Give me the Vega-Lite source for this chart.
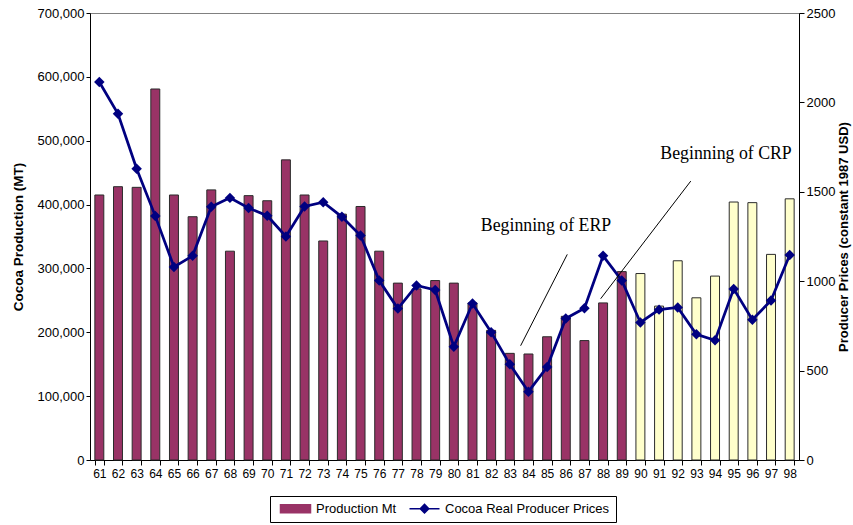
{
  "$schema": "https://vega.github.io/schema/vega-lite/v6.json",
  "width": 709,
  "height": 447,
  "autosize": "none",
  "padding": {"left": 90, "top": 13, "right": 54, "bottom": 65},
  "background": "white",
  "view": {"stroke": "#808080", "strokeWidth": 1},
  "config": {
    "font": "Liberation Sans",
    "axis": {"labelFont": "Liberation Sans", "titleFont": "Liberation Sans", "labelColor": "#000000", "titleColor": "#000000", "domainColor": "#000000", "tickColor": "#000000", "grid": false}
  },
  "datasets": {
    "cocoa": [
      {"year": "61", "production": 415000, "price": 2114},
      {"year": "62", "production": 428000, "price": 1936},
      {"year": "63", "production": 427000, "price": 1629},
      {"year": "64", "production": 581000, "price": 1364},
      {"year": "65", "production": 415000, "price": 1080},
      {"year": "66", "production": 381000, "price": 1142},
      {"year": "67", "production": 423000, "price": 1416},
      {"year": "68", "production": 327000, "price": 1466},
      {"year": "69", "production": 414000, "price": 1409},
      {"year": "70", "production": 406000, "price": 1366},
      {"year": "71", "production": 470000, "price": 1250},
      {"year": "72", "production": 415000, "price": 1418},
      {"year": "73", "production": 343000, "price": 1442},
      {"year": "74", "production": 385000, "price": 1360},
      {"year": "75", "production": 397000, "price": 1256},
      {"year": "76", "production": 327000, "price": 1004},
      {"year": "77", "production": 277000, "price": 847},
      {"year": "78", "production": 268000, "price": 976},
      {"year": "79", "production": 281000, "price": 951},
      {"year": "80", "production": 277000, "price": 634},
      {"year": "81", "production": 246000, "price": 875},
      {"year": "82", "production": 203000, "price": 715},
      {"year": "83", "production": 167000, "price": 535},
      {"year": "84", "production": 166000, "price": 382},
      {"year": "85", "production": 193000, "price": 520},
      {"year": "86", "production": 225000, "price": 791},
      {"year": "87", "production": 187000, "price": 849},
      {"year": "88", "production": 246000, "price": 1142},
      {"year": "89", "production": 295000, "price": 1004},
      {"year": "90", "production": 292000, "price": 769},
      {"year": "91", "production": 241000, "price": 841},
      {"year": "92", "production": 312000, "price": 853},
      {"year": "93", "production": 254000, "price": 703},
      {"year": "94", "production": 288000, "price": 670},
      {"year": "95", "production": 404000, "price": 957},
      {"year": "96", "production": 403000, "price": 784},
      {"year": "97", "production": 322000, "price": 892},
      {"year": "98", "production": 409000, "price": 1147}
    ],
    "leaders": [
      {"id": "ERP", "x": 83.58, "y": 639},
      {"id": "ERP", "x": 86.08, "y": 1150},
      {"id": "CRP", "x": 87.87, "y": 902},
      {"id": "CRP", "x": 92.7, "y": 1560}
    ],
    "labels": [
      {"text": "Beginning of ERP", "x": 84.94, "y": 1281},
      {"text": "Beginning of CRP", "x": 94.59, "y": 1683}
    ]
  },
  "layer": [
    {
      "data": {"name": "cocoa"},
      "layer": [
        {
          "mark": {"type": "bar", "stroke": "#2b2b2b", "strokeWidth": 1},
          "encoding": {
            "x": {
              "field": "year", "type": "ordinal",
              "scale": {"paddingInner": 0.52, "paddingOuter": 0.26},
              "axis": {"title": null, "labelAngle": 0, "labelFontSize": 12, "tickBand": "extent", "tickSize": 5, "labelPadding": 3, "domainWidth": 1}
            },
            "y": {
              "field": "production", "type": "quantitative",
              "scale": {"domain": [0, 700000], "nice": false},
              "axis": {"orient": "left", "title": "Cocoa Production (MT)", "values": [0, 100000, 200000, 300000, 400000, 500000, 600000, 700000], "format": ",d", "labelFontSize": 13, "titleFontSize": 13.5, "titleFontWeight": "bold", "tickSize": 4, "labelPadding": 2, "titlePadding": 12}
            },
            "color": {
              "condition": {"test": "toNumber(datum.year) >= 90", "value": "#FFFFCC"},
              "datum": "Production Mt",
              "type": "nominal",
              "scale": {"domain": ["Production Mt", "Cocoa Real Producer Prices"], "range": ["#993366", "#000080"]},
              "legend": {
                "title": null,
                "orient": "none",
                "legendX": 180,
                "legendY": 483,
                "direction": "horizontal",
                "strokeColor": "#000000",
                "fillColor": "#ffffff",
                "padding": 6,
                "labelFont": "Liberation Sans",
                "labelFontSize": 13,
                "labelColor": "#000000",
                "labelLimit": 400,
                "symbolSize": 100,
                "symbolStrokeWidth": 1.5,
                "symbolOffset": 13,
                "labelOffset": 14,
                "columnPadding": 8
              }
            }
          }
        },
        {
          "mark": {"type": "line", "strokeWidth": 2.75, "point": {"shape": "diamond", "size": 110, "filled": true, "opacity": 1}},
          "encoding": {
            "x": {"field": "year", "type": "ordinal"},
            "y": {
              "field": "price", "type": "quantitative",
              "scale": {"domain": [0, 2500], "nice": false},
              "axis": {"orient": "right", "title": "Producer Prices (constant 1987 USD)", "values": [0, 500, 1000, 1500, 2000, 2500], "format": "d", "labelFontSize": 13, "titleFontSize": 13, "titleFontWeight": "bold", "titleAngle": 270, "titleBaseline": "top", "tickSize": 5, "labelPadding": 2, "titlePadding": 3}
            },
            "color": {"datum": "Cocoa Real Producer Prices", "type": "nominal"}
          }
        },
        {
          "transform": [{"filter": "false"}],
          "mark": {"type": "point", "filled": true},
          "encoding": {
            "color": {"datum": "Cocoa Real Producer Prices", "type": "nominal"},
            "shape": {
              "datum": "Cocoa Real Producer Prices",
              "type": "nominal",
              "scale": {"domain": ["Production Mt", "Cocoa Real Producer Prices"], "range": ["M-3,-0.8H3V0.8H-3Z", "M-3,0H3M0,-0.85L0.85,0L0,0.85L-0.85,0Z"]},
              "legend": {"title": null}
            }
          }
        }
      ],
      "resolve": {"scale": {"y": "independent"}}
    },
    {
      "layer": [
        {
          "data": {"name": "leaders"},
          "mark": {"type": "line", "color": "#000000", "strokeWidth": 1},
          "encoding": {
            "x": {"field": "x", "type": "quantitative", "scale": {"domain": [60.5, 98.5], "nice": false, "zero": false}, "axis": null},
            "y": {"field": "y", "type": "quantitative", "scale": {"domain": [0, 2500], "nice": false}, "axis": null},
            "detail": {"field": "id"}
          }
        },
        {
          "data": {"name": "labels"},
          "mark": {"type": "text", "font": "Liberation Serif", "fontSize": 17.8, "color": "#000000", "align": "center", "baseline": "alphabetic"},
          "encoding": {
            "x": {"field": "x", "type": "quantitative"},
            "y": {"field": "y", "type": "quantitative"},
            "text": {"field": "text"}
          }
        }
      ]
    }
  ],
  "resolve": {"scale": {"x": "independent", "y": "independent"}}
}
